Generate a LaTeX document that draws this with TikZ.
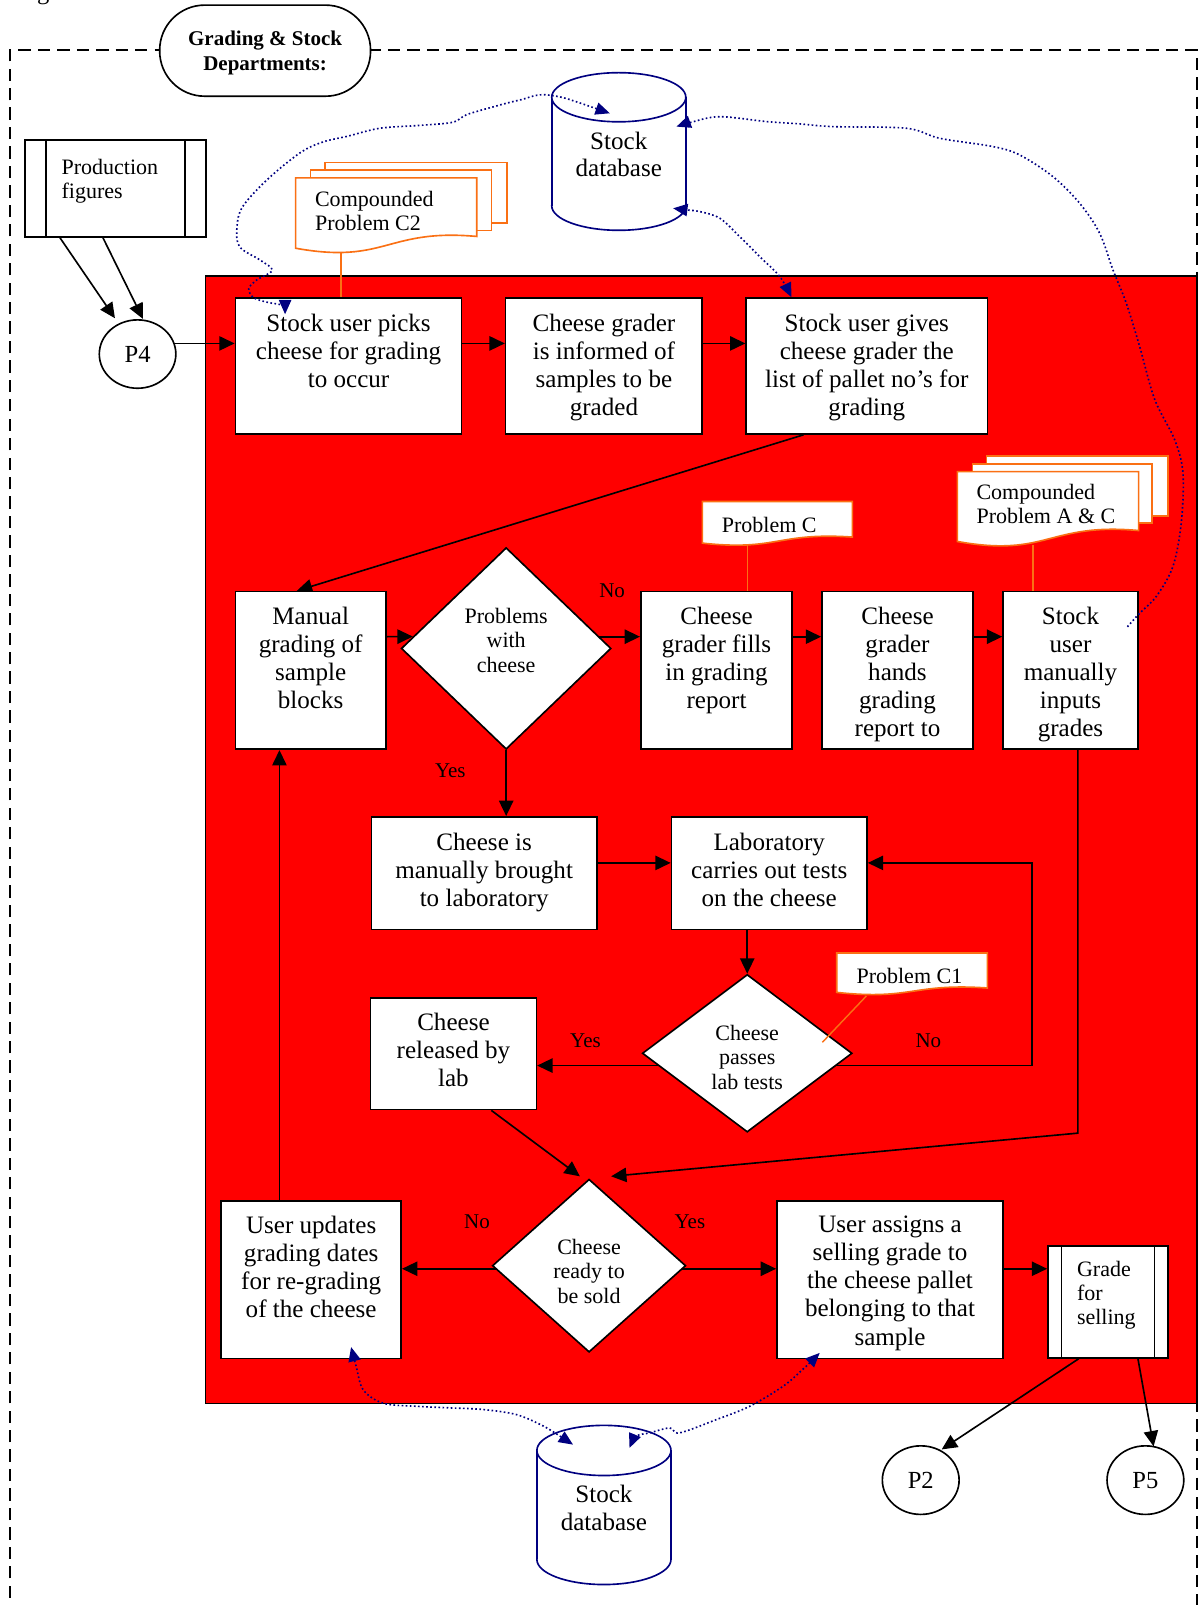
\documentclass[tikz,border=0pt]{standalone}
\usepackage{fontspec}
\setmainfont{Liberation Serif}
\usetikzlibrary{arrows.meta,shapes.geometric,calc}
\definecolor{navy}{RGB}{0,0,128}
\definecolor{noteline}{RGB}{250,112,20}
\definecolor{zone}{RGB}{255,0,0}
\pgfdeclarelayer{back}
\pgfdeclarelayer{wires}
\pgfsetlayers{back,wires,main}
% document sheet with a wavy lower edge: x0, x1, top, bottom-left, bottom-right, dip, rise
\newcommand{\wavedoc}[7]{%
  \draw[notebox] (#1,#3) -- (#2,#3) -- (#2,#5)
    .. controls ({(#1+#2)/2},{#5-#7}) and ({(#1+#2)/2},{#4+#6}) .. (#1,#4) -- cycle;}
\tikzset{
  pbox/.style={draw=black, fill=white, line width=1.6pt, rectangle, inner sep=0pt},
  btxt/.style={font=\fontsize{24.5}{27.5}\selectfont, align=center, inner sep=0pt, anchor=north},
  stxt/.style={font=\fontsize{21.5}{24.2}\selectfont, align=center, inner sep=0pt},
  ltxt/.style={font=\fontsize{21.5}{23.5}\selectfont, align=left, inner sep=0pt},
  lbl/.style={font=\fontsize{20.5}{24}\selectfont, inner sep=0pt},
  decide/.style={diamond, draw=black, fill=white, line width=1.6pt, inner sep=0pt},
  conn/.style={ellipse, draw=black, fill=white, line width=1.6pt, inner sep=0pt, font=\fontsize{24}{27}\selectfont},
  arr/.style={line width=1.6pt, -{Triangle[length=15pt,width=14pt]}},
  notebox/.style={draw=noteline, fill=white, line width=1.6pt},
  noteln/.style={draw=noteline, line width=1.4pt},
  dblink/.style={navy, line width=1.6pt, dash pattern=on 1.6pt off 2.4pt},
  dbboth/.style={dblink, {Triangle[length=14pt,width=12pt]}-{Triangle[length=14pt,width=12pt]}},
  dbstart/.style={dblink, {Triangle[length=14pt,width=12pt]}-},
  dbbody/.style={draw=navy, fill=white, line width=1.6pt},
  dbtxt/.style={font=\fontsize{24.5}{27}\selectfont, align=center, inner sep=0pt},
}
\begin{document}
\begin{tikzpicture}[x=1pt,y=-1pt]
\useasboundingbox (0,0) rectangle (1171,1568);

% caption line cut off at the top edge
\node[anchor=base west, inner sep=0pt, font=\fontsize{24}{27}\selectfont] (cap) at (36,-0.5) {g};

\begin{pgfonlayer}{back}
  \draw[line width=1.5pt, dash pattern=on 12pt off 7pt] (10,1580) -- (10,49) -- (1169.5,49) -- (1169.5,1580);
  \filldraw[fill=zone, draw=black, line width=1.4pt] (201,269.5) rectangle (1169.5,1371);
\end{pgfonlayer}

% department heading
\node[pbox, rounded corners=44pt, minimum width=206pt, minimum height=89pt] (dept) at (259,49.5) {};
\node[font=\bfseries\fontsize{20.5}{24}\selectfont, align=center, inner sep=0pt] (deptt) at (259,51.5) {Grading \& Stock\\Departments:};

% production figures (predefined process)
\node[pbox, minimum width=176.5pt, minimum height=94.5pt] (prod) at (112.75,184.25) {};
\draw[line width=1.6pt] ([xshift=21.5pt]prod.north west) -- ([xshift=21.5pt]prod.south west)
  ([xshift=-21pt]prod.north east) -- ([xshift=-21pt]prod.south east);
\node[ltxt, anchor=north west] (prodt) at (60,155.5) {Production\\figures};

\node[conn, minimum width=74.8pt, minimum height=66.8pt] (p4) at (134.4,345.9) {P4};

% first row
\node[pbox, minimum width=221pt, minimum height=133pt] (b1) at (340.5,357.5) {};
\node[btxt] (b1t) at ([yshift=-16pt]b1.north) {Stock user picks\\cheese for grading\\to occur};
\node[pbox, minimum width=192pt, minimum height=133pt] (b2) at (590,357.5) {};
\node[btxt] (b2t) at ([yshift=-16pt]b2.north) {Cheese grader\\is informed of\\samples to be\\graded};
\node[pbox, minimum width=235.6pt, minimum height=133pt] (b3) at (846.8,357.5) {};
\node[btxt] (b3t) at ([yshift=-16pt]b3.north) {Stock user gives\\cheese grader the\\list of pallet no’s for\\grading};

% second row
\node[pbox, minimum width=147pt, minimum height=154pt] (manual) at (303.5,655) {};
\node[btxt] (manualt) at ([yshift=-15.5pt]manual.north) {Manual\\grading of\\sample\\blocks};
\node[decide, minimum width=205pt, minimum height=197pt] (d1) at (494.5,633.5) {};
\node[stxt] (d1t) at (494.5,625.5) {Problems\\with\\cheese};
\node[pbox, minimum width=148pt, minimum height=154pt] (fills) at (700,655) {};
\node[btxt] (fillst) at ([yshift=-15.5pt]fills.north) {Cheese\\grader fills\\in grading\\report};
\node[pbox, minimum width=147.6pt, minimum height=154pt] (hands) at (876.8,655) {};
\node[btxt] (handst) at ([yshift=-15.5pt]hands.north) {Cheese\\grader\\hands\\grading\\report to};
\node[pbox, minimum width=131.8pt, minimum height=154pt] (inputs) at (1045.8,655) {};
\node[btxt] (inputst) at ([yshift=-15.5pt]inputs.north) {Stock\\user\\manually\\inputs\\grades};

% laboratory part
\node[pbox, minimum width=220pt, minimum height=110pt] (brought) at (473,853) {};
\node[btxt] (broughtt) at ([yshift=-16pt]brought.north) {Cheese is\\manually brought\\to laboratory};
\node[pbox, minimum width=191pt, minimum height=110pt] (lab) at (751.5,853) {};
\node[btxt] (labt) at ([yshift=-16pt]lab.north) {Laboratory\\carries out tests\\on the cheese};
\node[decide, minimum width=205pt, minimum height=154pt] (d2) at (730,1029) {};
\node[stxt] (d2t) at (730,1033) {Cheese\\passes\\lab tests};
\node[pbox, minimum width=162pt, minimum height=109pt] (released) at (443,1029.5) {};
\node[btxt] (releasedt) at ([yshift=-15.5pt]released.north) {Cheese\\released by\\lab};

% selling decision
\node[decide, minimum width=189pt, minimum height=169pt] (d3) at (575.5,1236.5) {};
\node[stxt] (d3t) at (575.5,1242) {Cheese\\ready to\\be sold};
\node[pbox, minimum width=176pt, minimum height=154pt] (updates) at (304,1250) {};
\node[btxt] (updatest) at ([yshift=-15.5pt]updates.north) {User updates\\grading dates\\for re-grading\\of the cheese};
\node[pbox, minimum width=221pt, minimum height=154pt] (assigns) at (869.5,1250) {};
\node[btxt] (assignst) at ([yshift=-15.5pt]assigns.north) {User assigns a\\selling grade to\\the cheese pallet\\belonging to that\\sample};
\node[pbox, minimum width=117.2pt, minimum height=109.6pt] (grade) at (1082.4,1271.8) {};
\draw[line width=1.6pt] ([xshift=14pt]grade.north west) -- ([xshift=14pt]grade.south west)
  ([xshift=-14pt]grade.north east) -- ([xshift=-14pt]grade.south east);
\node[ltxt, anchor=north west] (gradet) at (1052,1232) {Grade\\for\\selling};

\node[conn, minimum width=75pt, minimum height=67pt] (p2) at (899.5,1446) {P2};
\node[conn, minimum width=75pt, minimum height=67pt] (p5) at (1119,1446) {P5};

% stock databases
\filldraw[dbbody] (604.5,201) ellipse [x radius=65.5, y radius=24];
\fill[white] (539,95) rectangle (670,201);
\draw[navy, line width=1.6pt] (539,95) -- (539,201) (670,95) -- (670,201);
\filldraw[dbbody] (604.5,95) ellipse [x radius=65.5, y radius=24];
\node[dbtxt] (db1) at (604.5,151) {Stock\\database};

\filldraw[dbbody] (590,1523.5) ellipse [x radius=65.5, y radius=24.5];
\fill[white] (524.5,1417) rectangle (655.5,1523.5);
\draw[navy, line width=1.6pt] (524.5,1417) -- (524.5,1523.5) (655.5,1417) -- (655.5,1523.5);
\filldraw[dbbody] (590,1417) ellipse [x radius=65.5, y radius=24.5];
\node[dbtxt] (db2) at (590,1473) {Stock\\database};

% problem notes
\draw[notebox] (317.4,158.9) rectangle (495,217.8);
\draw[notebox] (303.4,166) rectangle (480.2,225.3);
\wavedoc{288.8}{465.8}{173.8}{242.5}{231}{16}{8}
\node[ltxt, anchor=north west] (c2t) at (307.6,186.5) {Compounded\\Problem C2};

\draw[notebox] (963.6,445.3) rectangle (1141,504);
\draw[notebox] (950.2,453.1) rectangle (1125.7,510.8);
\wavedoc{935.3}{1112.4}{460.7}{529}{518.3}{16}{8}
\node[ltxt, anchor=north west] (act) at (953.8,473) {Compounded\\Problem A \& C};

\wavedoc{686.2}{832.7}{490}{530.6}{524.7}{8}{5}
\node[lbl, font=\fontsize{21.5}{24}\selectfont, anchor=base west] (pct) at (705,520.5) {Problem C};

\wavedoc{817.4}{964.6}{931}{969.5}{965.2}{8}{5}
\node[lbl, font=\fontsize{21.5}{24}\selectfont, anchor=base west] (pc1t) at (836.6,961) {Problem C1};

\coordinate (c2foot) at (333,246.5);
\coordinate (pcfoot) at (730,532.5);
\coordinate (acfoot) at (1009,532.5);
\coordinate (c1foot) at (846.4,973);
\draw[noteln] (c2foot) -- (b1.north -| c2foot);
\draw[noteln] (pcfoot) -- (fills.north -| pcfoot);
\draw[noteln] (acfoot) -- (inputs.north -| acfoot);
\draw[noteln] (c1foot) -- ($(d2)+(73.4,-10.7)$);

% branch labels
\node[lbl] (no1) at (598,577) {No};
\node[lbl] (yes1) at (440,753) {Yes};
\node[lbl] (yes2) at (572,1017) {Yes};
\node[lbl] (no2) at (907,1017) {No};
\node[lbl] (no3) at (466,1194) {No};
\node[lbl] (yes3) at (674,1194) {Yes};

% flow connectors
\coordinate (r1) at (0,335.5);
\coordinate (r2) at (0,622);
\coordinate (r3) at (1008,843);
\coordinate (r4) at (0,1041);
\coordinate (r5) at (0,1239.5);
\coordinate (s3) at (785,0);
\coordinate (s5) at (480,0);
\coordinate (s6) at (273,0);
\coordinate (k1) at (1053,1107);
\begin{pgfonlayer}{wires}
  \draw[arr] ([xshift=-54.15pt]prod.south) -- ($(p4)+(-22.1,-35)$);
  \draw[arr] ([xshift=-12.15pt]prod.south) -- ($(p4)+(5.2,-34.4)$);
  \draw[arr] (p4.center |- r1) -- (b1.west |- r1);
  \draw[arr] (b1.east |- r1) -- (b2.west |- r1);
  \draw[arr] (b2.east |- r1) -- (b3.west |- r1);
  \draw[arr] (b3.south -| s3) -- ($(manual.north)+(-13.5,0)$);
  \draw[arr] (manual.east |- r2) -- ($(d1.west)!0.117!(d1.north)$);
  \draw[arr] (d1.center |- r2) -- (fills.west |- r2);
  \draw[arr] (fills.east |- r2) -- (hands.west |- r2);
  \draw[arr] (hands.east |- r2) -- (inputs.west |- r2);
  \draw[arr] (d1.south) -- (d1.south |- brought.north);
  \draw[arr] (brought.east |- r3) -- (lab.west |- r3);
  \draw[arr] (d2.north |- lab.south) -- (d2.north);
  \draw[arr] (d2.center |- r4) -- (released.east |- r4);
  \draw[arr] (d2.center |- r4) -| (r3) -- (lab.east |- r3);
  \draw[arr] (released.south -| s5) -- ($(d3.north)+(-9,-2)$);
  \draw[arr] (inputs.south -| k1) -- (k1) -- ($(d3.north)+(21.5,-2)$);
  \draw[arr] (d3.center |- r5) -- (updates.east |- r5);
  \draw[arr] (d3.center |- r5) -- (assigns.west |- r5);
  \draw[arr] (updates.north -| s6) -- (manual.south -| s6);
  \draw[arr] (assigns.east |- r5) -- (grade.west |- r5);
  \draw[arr] ([xshift=-28.6pt]grade.south) -- ($(p2)+(20.5,-30)$);
  \draw[arr] ([xshift=29.3pt]grade.south) -- ($(p5)+(8,-33)$);
\end{pgfonlayer}

% database links
\draw[dbboth] plot[smooth, tension=0.55] coordinates {(595.8,110.7) (537,93) (507.8,97.7) (481.5,104.5) (456,112) (442,119.5) (410,122.5) (371,125.3) (340,133) (315.5,138.7) (293,149.4) (260.7,175.8) (237,202) (231.5,221.7) (234,241) (254,254) (266,264) (251,273.4) (243,282) (248,291) (262,295.5) (276,298.5) (278.5,307)};
\draw[dbboth] plot[smooth, tension=0.55] coordinates {(657.6,203.5) (670.6,205.1) (683.6,206.7) (703.2,213.2) (722.7,231.2) (742.2,250.7) (761.8,270.2) (773.2,290.4)};
\draw[dbstart] plot[smooth, tension=0.55] coordinates {(660.9,123.7) (675,119.5) (703,114) (749,118.8) (781,121) (813.8,123.7) (885.5,125.3) (918,135.1) (970.1,143.2) (996.2,151.4) (1028.7,172.6) (1054.8,198.6) (1074.3,227.9) (1087.3,263.7) (1100.3,296.2) (1113.4,338.6) (1128,390) (1147.6,429.7) (1155.7,462.3) (1154,511) (1145.9,553.4) (1129.6,582.7) (1113.4,599) (1100.3,613.6)};
\draw[dbboth] plot[smooth, tension=0.55] coordinates {(343,1316) (348,1335) (355,1358) (375,1371) (410,1374) (439.5,1375.4) (471.8,1377) (504.6,1382) (530.5,1393) (547,1403) (559.8,1411.3)};
\draw[dbboth] plot[smooth, tension=0.55] coordinates {(800.8,1321.7) (784,1338) (765,1354.3) (732.5,1373.8) (700,1386.8) (664,1399.8) (654.3,1395) (634.8,1399.8) (621.8,1403) (615,1414.5)};
\end{tikzpicture}
\end{document}
